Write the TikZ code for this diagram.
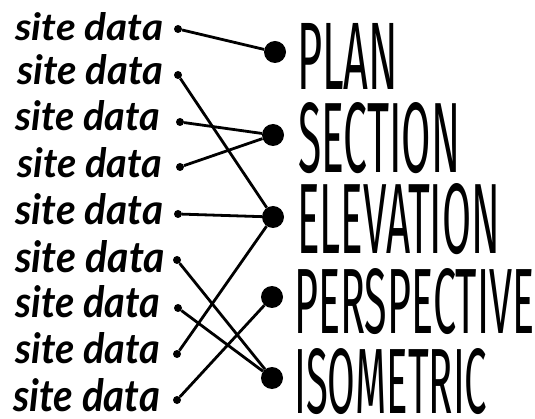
\documentclass[tikz,border=0pt]{standalone}
\usepackage{fontspec}
\setmainfont{Lato}
\newfontfamily\capsfont{Fira Sans}
\begin{document}
\begin{tikzpicture}[x=1pt,y=-1pt,
  sd/.style={inner sep=0pt, anchor=north west, font=\bfseries\itshape},
  lbl/.style={inner sep=0pt, anchor=north west, font=\capsfont},
  smalldot/.style={circle, fill=black, inner sep=0pt, minimum size=8pt},
  bigdot/.style={circle, fill=black, inner sep=0pt, minimum size=22pt},
  link/.style={line width=2.8pt}]
\fill[white] (0,0) rectangle (535,419);
\useasboundingbox (0,0) rectangle (535,419);
% site data labels
\node[sd] (t1) at (15,12)  {\resizebox{148pt}{28pt}{site data}};
\node[sd] (t2) at (17,54)  {\resizebox{146pt}{30pt}{site data}};
\node[sd] (t3) at (15,100) {\resizebox{145pt}{30pt}{site data}};
\node[sd] (t4) at (17,147) {\resizebox{145pt}{30pt}{site data}};
\node[sd] (t5) at (15,193) {\resizebox{148pt}{31pt}{site data}};
\node[sd] (t6) at (15,240) {\resizebox{150pt}{32pt}{site data}};
\node[sd] (t7) at (15,285) {\resizebox{145pt}{32pt}{site data}};
\node[sd] (t8) at (15,332) {\resizebox{145pt}{31pt}{site data}};
\node[sd] (t9) at (13,378) {\resizebox{147pt}{33pt}{site data}};
% small dots
\node[smalldot] (d1) at (178,29) {};
\node[smalldot] (d2) at (178,75) {};
\node[smalldot] (d3) at (180,122) {};
\node[smalldot] (d4) at (180,167) {};
\node[smalldot] (d5) at (178,214) {};
\node[smalldot] (d6) at (177,260) {};
\node[smalldot] (d7) at (178,308) {};
\node[smalldot] (d8) at (177,354) {};
\node[smalldot] (d9) at (177,400) {};
% big dots
\node[bigdot] (P) at (275,52) {};
\node[bigdot] (S) at (273,135) {};
\node[bigdot] (E) at (273,217) {};
\node[bigdot] (V) at (272,297) {};
\node[bigdot] (I) at (272,378) {};
% labels
\node[lbl] (lP) at (297,23)  {\resizebox{101pt}{66pt}{PLAN}};
\node[lbl] (lS) at (298,102) {\resizebox{162pt}{70pt}{SECTION}};
\node[lbl] (lE) at (297,183) {\resizebox{203pt}{70pt}{ELEVATION}};
\node[lbl] (lV) at (294,268) {\resizebox{240pt}{65pt}{PERSPECTIVE}};
\node[lbl] (lI) at (294,348) {\resizebox{193pt}{65pt}{ISOMETRIC}};
% connectors
\draw[link] (d1) -- (P);
\draw[link] (d2) -- (E);
\draw[link] (d3) -- (S);
\draw[link] (d4) -- (S);
\draw[link] (d5) -- (E);
\draw[link] (d6) -- (I);
\draw[link] (d7) -- (I);
\draw[link] (d8) -- (E);
\draw[link] (d9) -- (V);
\end{tikzpicture}
\end{document}
